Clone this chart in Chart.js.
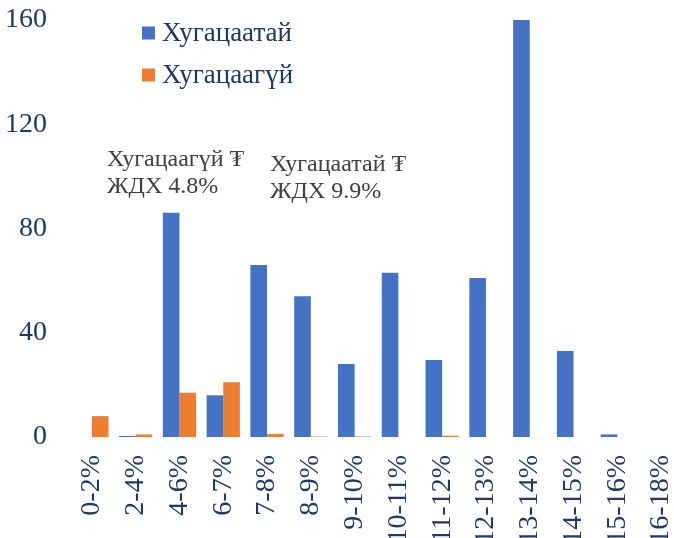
<!DOCTYPE html>
<html lang="mn">
<head>
    <meta charset="UTF-8">
    <title>Хугацаатай / Хугацаагүй</title>
    <script src="https://cdn.jsdelivr.net/npm/chart.js"></script>
    <style>
        html, body {
            margin: 0;
            padding: 0;
            background: #ffffff;
            overflow: hidden;
        }
        canvas { display: block; }
    </style>
</head>
<body>
    <canvas id="rateChart" width="690" height="538"></canvas>

    <script>
        // interest rate buckets
        const categories = ['0-2%', '2-4%', '4-6%', '6-7%', '7-8%', '8-9%', '9-10%',
            '10-11%', '11-12%', '12-13%', '13-14%', '14-15%', '15-16%', '16-18%'];
        const withTerm = [0, 0.4, 86, 16, 66, 54, 28, 63, 29.5, 61, 160, 33, 1, 0];
        const withoutTerm = [8, 1, 17, 21, 1.2, 0.2, 0.2, 0, 0.5, 0, 0, 0, 0, 0];
        const yTicks = [0, 40, 80, 120, 160];

        const notes = [
            { lines: ['Хугацаагүй ₮', 'ЖДХ 4.8%'], x: 107, y: 160 },
            { lines: ['Хугацаатай ₮', 'ЖДХ 9.9%'], x: 270, y: 165 }
        ];

        const serif = "'Liberation Serif', 'Times New Roman', serif";
        const tickColor = '#203864';

        // legend + text notes drawn on top of the plot
        const overlay = {
            id: 'overlay',
            afterDraw(chart) {
                const c = chart.ctx;
                c.save();
                c.textBaseline = 'middle';
                c.textAlign = 'left';
                c.font = '27px ' + serif;
                chart.data.datasets.forEach((ds, i) => {
                    const y = 33 + i * 42;
                    c.fillStyle = ds.backgroundColor;
                    c.fillRect(142, y - 6.5, 13, 13);
                    c.fillStyle = tickColor;
                    c.fillText(ds.label, 162, y + 1);
                });
                c.font = '24px ' + serif;
                c.fillStyle = '#404040';
                notes.forEach(n => {
                    n.lines.forEach((t, j) => c.fillText(t, n.x, n.y + j * 27));
                });
                c.restore();
            }
        };

        const ctx = document.getElementById('rateChart').getContext('2d');
        new Chart(ctx, {
            type: 'bar',
            data: {
                labels: categories,
                datasets: [
                    {
                        label: 'Хугацаатай',
                        data: withTerm,
                        backgroundColor: '#4472C4',
                        categoryPercentage: 0.76,
                        barPercentage: 1
                    },
                    {
                        label: 'Хугацаагүй',
                        data: withoutTerm,
                        backgroundColor: '#ED7D31',
                        categoryPercentage: 0.76,
                        barPercentage: 1
                    }
                ]
            },
            options: {
                responsive: false,
                animation: false,
                layout: { padding: { top: 20, right: 7, left: 0, bottom: 0 } },
                plugins: {
                    legend: { display: false },
                    tooltip: { enabled: false }
                },
                scales: {
                    x: {
                        grid: { display: false, drawTicks: false },
                        border: { display: false },
                        ticks: {
                            color: tickColor,
                            font: { family: serif, size: 28 },
                            minRotation: 90,
                            maxRotation: 90,
                            padding: 18,
                            autoSkip: false
                        },
                        afterFit(scale) {
                            scale.height = 101;
                            scale.paddingLeft = 0;
                            scale.paddingRight = 0;
                        }
                    },
                    y: {
                        min: 0,
                        max: 160,
                        grid: { display: false, drawTicks: false },
                        border: { display: false },
                        afterBuildTicks(scale) {
                            scale.ticks = yTicks.map(v => ({ value: v }));
                        },
                        ticks: {
                            color: tickColor,
                            font: { family: serif, size: 28 },
                            padding: 23
                        },
                        afterFit(scale) {
                            scale.width = 70;
                            scale.paddingTop = 0;
                            scale.paddingBottom = 0;
                        }
                    }
                }
            },
            plugins: [overlay]
        });
    </script>
</body>
</html>
